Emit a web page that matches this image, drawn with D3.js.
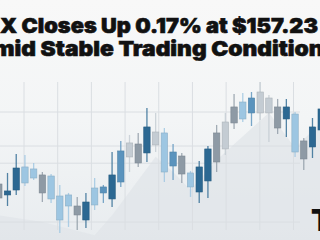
<!DOCTYPE html>
<html><head><meta charset="utf-8">
<script src="https://cdn.jsdelivr.net/npm/d3@7/dist/d3.min.js"></script>
<style>html,body{margin:0;padding:0;background:#f6f7f8;overflow:hidden}svg{display:block}</style>
</head><body>
<script>
// ---- data ----
const titleLines = ["X Closes Up 0.17% at $157.23", "Amid Stable Trading Conditions"];
const cornerText = "T";
const highs  = [147.75,148.38,150.75,150.63,149.63,148.5,148.25,146.88,145.88,145.38,145.88,147.75,146.88,151.0,152.38,153.13,153.38,156.5,155.88,154.0,152.0,150.88,148.63,149.88,151.75,154.38,155.88,158.25,158.38,158.5,159.75,158.13,157.63,157.63,156.0,152.75,155.25,157.5];
const lows   = [144.5,144.25,145.63,146.75,147.5,144.75,144.63,140.88,141.63,141.25,141.5,143.75,144.63,144.13,146.63,148.5,149.13,149.75,151.0,147.25,147.5,147.13,145.38,144.63,145.25,148.5,150.63,153.88,154.75,154.25,155.0,152.25,153.25,152.88,150.38,148.75,150.25,153.13];
const opens  = [147.0,145.63,146.25,149.13,148.88,148.13,148.0,145.5,145.63,144.25,142.5,144.38,145.88,145.13,147.25,150.38,152.0,150.88,153.5,153.38,151.0,150.5,148.38,146.0,147.38,149.75,151.38,156.63,157.25,155.88,155.88,157.75,156.63,155.13,155.75,152.38,151.63,153.75];
const closes = [145.25,146.13,149.0,147.13,147.75,145.88,145.13,142.5,144.25,143.13,144.75,146.5,146.63,148.13,151.13,152.13,149.63,154.13,151.88,148.5,149.25,148.25,146.63,149.13,151.38,153.38,154.75,154.63,155.13,157.75,158.5,155.88,154.0,156.63,151.0,150.13,154.13,156.38];
const groups = ["G","D","D","L","L","G","L","L","L","G","D","L","M","D","M","S","G","D","S","L","M","G","L","D","D","G","S","G","L","M","S","S","G","D","L","G","D","D"];
const shadeIdx = [-1,0,5,11,13,18,20,22,25,31,34,37,38];
const shadeVal = [143.1,143.1,142.25,140.6,143.1,150.4,148.5,146.25,150.0,155.9,151.5,154.75,154.75];
const gridPrices = [156, 151.75, 149.6, 142.25];
const gridCols = 9;

// ---- scales ----
const W = 320, H = 240;
const x = d3.scaleLinear().domain([0, 37]).range([-1.2, 321.2]);
const y = d3.scaleLinear().domain([140, 160]).range([240, 80]);
const gx = d3.scaleLinear().domain([0, gridCols - 1]).range([24, 293.5]);
const tone = d3.scaleOrdinal().domain(["D","M","L","G","S"])
  .range(["#2c6892","#5a93bd","#9dc6e2","#8e9aa5","#c4ccd3"]);

const svg = d3.select("body").append("svg").attr("width", W).attr("height", H);
const defs = svg.append("defs");
const bg = defs.append("linearGradient").attr("id","bg").attr("x1",0).attr("y1",0).attr("x2",0).attr("y2",1);
bg.append("stop").attr("offset","0").attr("stop-color","#f8f8f8");
bg.append("stop").attr("offset","0.5").attr("stop-color","#f3f5f6");
bg.append("stop").attr("offset","1").attr("stop-color","#e8ecef");
svg.append("rect").attr("width",W).attr("height",H).attr("fill","url(#bg)");

// shaded mountain
const area = d3.area().x((d,i)=>x(shadeIdx[i])).y0(H).y1(d=>y(d));
svg.append("path").datum(shadeVal).attr("d", area).attr("fill","#dfe4e8").attr("opacity",0.7);

// grid
svg.append("g").selectAll("line").data(d3.range(gridCols)).join("line")
  .attr("x1", d=>gx(d)).attr("x2", d=>gx(d)).attr("y1", 82).attr("y2", 230)
  .attr("stroke","#dadee2").attr("stroke-width",1);
svg.append("g").selectAll("line").data(gridPrices).join("line")
  .attr("x1", 0).attr("x2", 300).attr("y1", d=>y(d)).attr("y2", d=>y(d))
  .attr("stroke","#dadee2").attr("stroke-width",1);

// candles
const bw = 6.4;
const cg = svg.append("g");
const idx = d3.range(highs.length);
cg.selectAll("line").data(idx).join("line")
  .attr("x1", i=>x(i)).attr("x2", i=>x(i))
  .attr("y1", i=>y(highs[i])).attr("y2", i=>y(lows[i]))
  .attr("stroke", i=>tone(groups[i])).attr("stroke-width",1.3).attr("opacity",0.8);
cg.selectAll("rect").data(idx).join("rect")
  .attr("x", i=>x(i)-bw/2).attr("width", bw)
  .attr("y", i=>y(Math.max(opens[i],closes[i])))
  .attr("height", i=>Math.abs(y(opens[i])-y(closes[i])))
  .attr("fill", i=>tone(groups[i]))
  .attr("stroke", i=>d3.color(tone(groups[i])).darker(0.35)).attr("stroke-width",0.6);

// title
const t = svg.append("g").attr("font-family","Inter, 'Open Sans', sans-serif").attr("font-weight",900)
  .attr("fill","#111").attr("stroke","#111").attr("stroke-width",0.6).attr("font-size",20.5);
t.append("text").attr("x",0).attr("y",33).attr("textLength",318).attr("lengthAdjust","spacingAndGlyphs").text(titleLines[0]);
t.append("text").attr("x",-25).attr("y",55.5).attr("textLength",362).attr("lengthAdjust","spacingAndGlyphs").text(titleLines[1]);

svg.append("text").attr("x",311).attr("y",231).attr("font-family","Inter, sans-serif").attr("font-weight",900)
  .attr("font-size",30).attr("fill","#111").text(cornerText);
</script>
</body></html>
